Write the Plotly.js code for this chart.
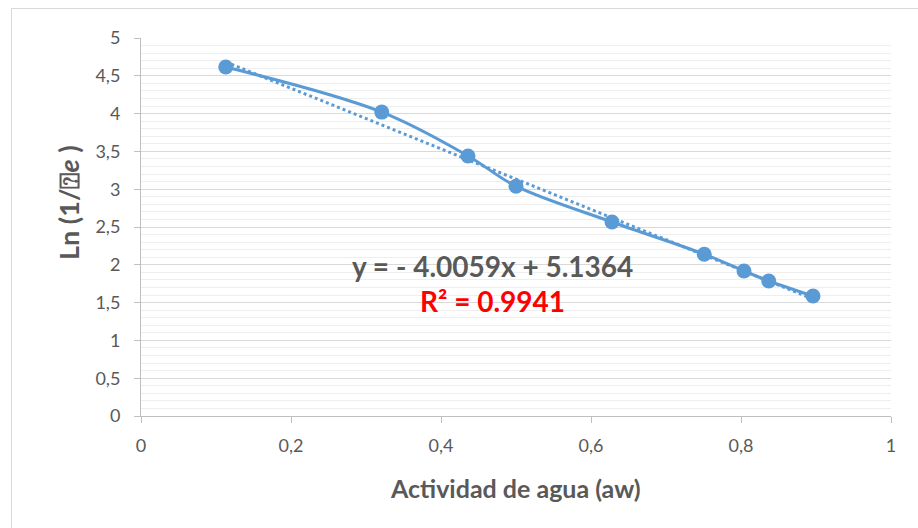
<!DOCTYPE html>
<html>
<head>
<meta charset="utf-8">
<script src="https://cdn.plot.ly/plotly-3.0.1.min.js"></script>
<style>
  html, body { margin: 0; padding: 0; background: #fff; overflow: hidden; }
  #chart { width: 918px; height: 528px; position: absolute; left: 0; top: 0; }
  #frame { position: absolute; left: 11px; top: 8px; width: 1200px; height: 1200px;
           border: 1px solid #d9d9d9; pointer-events: none; box-sizing: border-box; }
</style>
</head>
<body>
<div id="chart"></div>
<div id="frame"></div>
<script>
// Data
const aw = [0.113, 0.321, 0.436, 0.500, 0.628, 0.751, 0.804, 0.837, 0.896];
const lnVals = [4.616, 4.02, 3.44, 3.04, 2.566, 2.14, 1.918, 1.786, 1.587];
// Linear trendline as displayed on the chart
const slope = -4.0059;
const intercept = 5.1364;
const r2 = 0.9941;
const xTitle = "Actividad de agua (aw)";
const yTitle = "Ln (1/\u2370<i>e</i> )";

const trendX = [Math.min(...aw), Math.max(...aw)];
const trendY = trendX.map(x => slope * x + intercept);

const blue = "#5b9bd5";
const font = "Lato, 'Open Sans', 'Liberation Sans', sans-serif";

const traces = [
  {
    x: trendX, y: trendY, mode: "lines", type: "scatter",
    line: { color: blue, width: 3, dash: "dot" }, hoverinfo: "skip"
  },
  {
    x: aw, y: lnVals, mode: "lines+markers", type: "scatter",
    line: { color: blue, width: 3, shape: "spline", smoothing: 1 },
    marker: { color: blue, size: 15 }
  }
];

const layout = {
  width: 918, height: 528,
  margin: { l: 141, r: 27, t: 38, b: 112 },
  paper_bgcolor: "#ffffff", plot_bgcolor: "#ffffff",
  showlegend: false,
  separators: ",.",
  font: { family: font, color: "#595959", size: 18 },
  xaxis: {
    range: [0, 1], dtick: 0.2, tick0: 0,
    showgrid: false, zeroline: false,
    showline: true, linecolor: "#bfbfbf", linewidth: 1,
    ticks: "outside", ticklen: 6, tickcolor: "#bfbfbf",
    ticklabelstandoff: 7,
    tickfont: { family: font, size: 18, color: "#595959" }
  },
  yaxis: {
    range: [0, 5], dtick: 0.5, tick0: 0,
    showgrid: true, gridcolor: "#d9d9d9", gridwidth: 1,
    zeroline: false,
    showline: true, linecolor: "#bfbfbf", linewidth: 1,
    ticks: "outside", ticklen: 6, tickcolor: "#bfbfbf",
    ticklabelstandoff: 10,
    tickfont: { family: font, size: 18, color: "#595959" },
    minor: { dtick: 0.1, showgrid: true, gridcolor: "#eeeeee", gridwidth: 1, ticks: "" }
  },
  annotations: [
    {
      xref: "paper", yref: "paper", x: (515 - 141) / 750, y: (416 - 488) / 378,
      text: "<b>" + xTitle + "</b>",
      showarrow: false, xanchor: "center", yanchor: "middle",
      font: { family: font, size: 25, color: "#595959" }
    },
    {
      xref: "paper", yref: "paper", x: (68 - 141) / 750, y: (416 - 203) / 378,
      text: "<b>" + yTitle + "</b>", textangle: -90,
      showarrow: false, xanchor: "center", yanchor: "middle",
      font: { family: font, size: 27, color: "#595959" }
    },
    {
      xref: "paper", yref: "paper", x: (492 - 141) / 750, y: (416 - 266) / 378,
      text: "<b>y = - " + Math.abs(slope).toFixed(4) + "x + " + intercept.toFixed(4) + "</b>",
      showarrow: false, xanchor: "center", yanchor: "middle",
      font: { family: font, size: 28, color: "#595959" }
    },
    {
      xref: "paper", yref: "paper", x: (492 - 141) / 750, y: (416 - 301) / 378,
      text: "<b>R² = " + r2.toFixed(4) + "</b>",
      showarrow: false, xanchor: "center", yanchor: "middle",
      font: { family: font, size: 28, color: "#ff0000" }
    }
  ]
};

Plotly.newPlot("chart", traces, layout, { displayModeBar: false, staticPlot: true });
</script>
</body>
</html>
